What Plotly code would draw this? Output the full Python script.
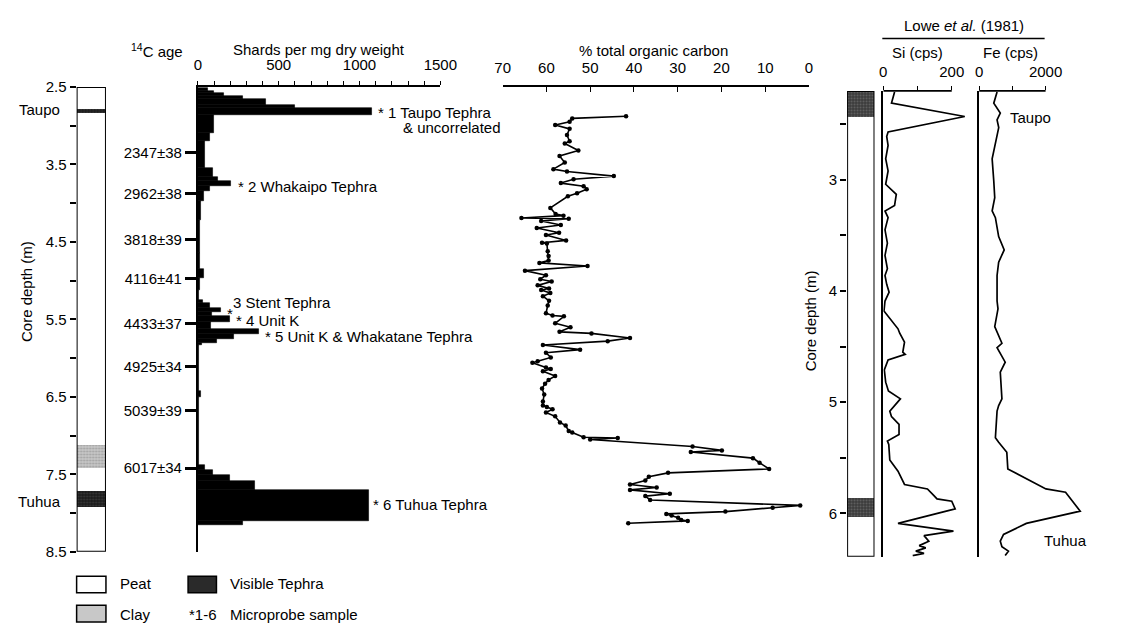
import plotly.graph_objects as go

W, H = 1141, 634
M = 8                      # default page margin of the html body
FW, FH = W - 2 * M, H - 2 * M
def fx(px): return (px - M) / FW
def fy(py): return 1 - (py - M) / FH

FONT = "Liberation Sans, Arial, sans-serif"

# ---------------- data ----------------
# Left stratigraphic column (Core depth, m)
lith_top = [2.5, 2.78, 2.84, 7.12, 7.42, 7.71, 7.92]
lith_bot = [2.78, 2.84, 7.12, 7.42, 7.71, 7.92, 8.5]
lith_type = ["Peat", "Tephra", "Peat", "Clay", "Peat", "Tephra", "Peat"]

# Shard counts (bins)
shard_top = [2.51, 2.55, 2.58, 2.62, 2.66, 2.73, 2.77, 2.86, 3.09, 3.20,
             3.55, 3.66, 3.71, 3.78, 3.84, 3.97, 4.22, 4.64, 4.85, 4.97,
             5.12, 5.25, 5.29, 5.35, 5.41, 5.45, 5.53, 5.62, 5.69, 5.75,
             5.80, 5.83, 6.42, 6.50, 7.38, 7.44, 7.51, 7.59, 7.70, 8.10]
shard_bot = shard_top[1:] + [8.15]
shard_val = [60, 100, 160, 280, 420, 600, 1075, 100, 75, 45,
             95, 125, 205, 75, 35, 20, 12, 15, 38, 12,
             8, 30, 75, 140, 85, 200, 80, 380, 225, 120,
             25, 6, 18, 6, 45, 95, 200, 350, 1055, 280]

# 14C ages
age_depth = [3.35, 3.88, 4.47, 4.97, 5.55, 6.11, 6.68, 7.42]
age_label = ["2347±38", "2962±38", "3818±39", "4116±41", "4433±37",
             "4925±34", "5039±39", "6017±34"]

# % total organic carbon
toc_depth = [2.877, 2.905, 2.948, 2.99, 3.04, 3.12, 3.20, 3.23, 3.32, 3.39,
             3.475, 3.56, 3.59, 3.65, 3.69, 3.74, 3.78, 3.82, 3.87, 3.91,
             4.06, 4.14, 4.16, 4.19, 4.20, 4.23, 4.28, 4.32, 4.38, 4.41,
             4.48, 4.51, 4.52, 4.62, 4.68, 4.74, 4.77, 4.81, 4.87, 4.93,
             4.98, 5.01, 5.06, 5.10, 5.12, 5.16, 5.20, 5.26, 5.32, 5.42,
             5.45, 5.46, 5.55, 5.60, 5.66, 5.68, 5.74, 5.78, 5.83, 5.89,
             5.93, 5.99, 6.04, 6.06, 6.12, 6.14, 6.17, 6.23, 6.28, 6.33,
             6.39, 6.47, 6.56, 6.61, 6.63, 6.66, 6.70, 6.75, 6.83, 6.87,
             6.94, 6.96, 7.02, 7.03, 7.05, 7.14, 7.19, 7.21, 7.29, 7.35,
             7.43, 7.48, 7.53, 7.58, 7.63, 7.67, 7.70, 7.75, 7.78, 7.83,
             7.90, 7.93, 7.98, 8.01, 8.03, 8.06, 8.09, 8.10, 8.13]
toc_val = [41.8, 54.1, 54.7, 58.0, 54.7, 55.3, 54.7, 55.8, 52.7, 57.0,
           55.8, 58.4, 55.3, 44.6, 53.8, 56.7, 51.5, 50.8, 53.0, 55.1,
           59.1, 57.9, 56.1, 65.7, 54.9, 61.2, 56.7, 62.2, 57.1, 60.1,
           55.5, 61.0, 59.9, 59.7, 59.5, 59.5, 61.6, 50.6, 64.9, 60.1,
           61.4, 58.8, 62.0, 59.4, 61.2, 59.1, 60.8, 59.4, 59.7, 60.1,
           58.6, 56.0, 58.0, 54.5, 57.0, 49.7, 40.9, 46.0, 60.8, 52.3,
           60.1, 59.0, 62.0, 63.2, 60.1, 59.0, 60.8, 58.0, 59.5, 60.3,
           61.0, 60.5, 60.8, 60.8, 59.9, 58.6, 60.1, 58.0, 56.9, 55.6,
           54.9, 54.1, 51.5, 43.7, 50.0, 26.6, 19.9, 27.0, 12.8, 11.3,
           9.1, 32.2, 36.6, 37.4, 40.9, 34.8, 40.9, 31.8, 37.4, 36.3,
           2.0, 8.3, 19.1, 32.6, 31.4, 29.9, 29.2, 27.7, 41.3]

# Lowe et al. (1981) core
lowe_top = [2.2, 2.43, 5.86, 6.03]
lowe_bot = [2.43, 5.86, 6.03, 6.39]
lowe_type = ["Tephra", "Peat", "Tephra", "Peat"]

si_depth = [2.21, 2.31, 2.43, 2.57, 2.61, 2.69, 2.81, 2.92, 3.04, 3.13,
            3.23, 3.28, 3.34, 3.45, 3.57, 3.68, 3.80, 3.86, 3.94, 4.01,
            4.09, 4.18, 4.34, 4.38, 4.46, 4.55, 4.57, 4.62, 4.71, 4.82,
            4.90, 4.97, 5.08, 5.13, 5.20, 5.29, 5.35, 5.38, 5.52, 5.62,
            5.74, 5.78, 5.84, 5.87, 5.89, 5.96, 6.09, 6.16, 6.20, 6.25,
            6.29, 6.31, 6.34, 6.36, 6.38]
si_val = [33, 24, 238, 14, 10, 14, 7, 14, 7, 38,
          33, 5, 14, 5, 12, 5, 12, 5, 10, 17,
          5, 2, 43, 48, 62, 57, 64, 14, 3, 7,
          15, 50, 19, 24, 46, 46, 12, 16, 19, 43,
          62, 129, 148, 157, 200, 210, 43, 205, 119, 133,
          105, 124, 95, 119, 86]

fe_depth = [2.21, 2.31, 2.40, 2.46, 2.53, 2.81, 3.01, 3.16, 3.28, 3.34,
            3.51, 3.63, 3.74, 3.86, 4.01, 4.09, 4.16, 4.32, 4.47, 4.51,
            4.64, 4.73, 4.97, 5.03, 5.08, 5.32, 5.36, 5.45, 5.60, 5.78,
            5.81, 5.98, 6.09, 6.19, 6.25, 6.30, 6.34, 6.38]
fe_val = [540, 441, 637, 540, 590, 392, 441, 470, 392, 490,
          588, 755, 588, 540, 540, 540, 568, 470, 686, 540,
          785, 637, 686, 588, 540, 490, 588, 833, 863, 2010,
          2600, 3040, 1420, 735, 637, 686, 882, 784]

# ---------------- figure ----------------
fig = go.Figure()

lith_style = {
    "Peat": dict(color="white", pattern=None),
    "Clay": dict(color="#c8c8c8", pattern=dict(shape=".", fgcolor="#7a7a7a", bgcolor="#c8c8c8", size=3, solidity=0.4)),
    "Tephra": dict(color="#1c1c1c", pattern=dict(shape=".", fgcolor="#5a5a5a", bgcolor="#1c1c1c", size=3, solidity=0.3)),
}
lowe_style = {
    "Peat": dict(color="white", pattern=None),
    "Tephra": dict(color="#3a3a3a", pattern=dict(shape=".", fgcolor="#8c8c8c", bgcolor="#3a3a3a", size=3, solidity=0.35)),
}

def add_column(tops, bots, types, styles, xa, ya):
    for lith, st in styles.items():
        t = [a for a, l in zip(tops, types) if l == lith]
        b = [c for c, l in zip(bots, types) if l == lith]
        if not t:
            continue
        marker = dict(color=st["color"], line=dict(width=0))
        if st["pattern"]:
            marker["pattern"] = st["pattern"]
        fig.add_trace(go.Bar(x=[0.5] * len(t), y=[bb - tt for tt, bb in zip(t, b)], base=t,
                             width=1, marker=marker, xaxis=xa, yaxis=ya,
                             showlegend=False, hoverinfo="skip"))

add_column(lith_top, lith_bot, lith_type, lith_style, "x", "y")

# shards
fig.add_trace(go.Bar(
    x=shard_val, y=[(a + b) / 2 for a, b in zip(shard_top, shard_bot)],
    width=[b - a for a, b in zip(shard_top, shard_bot)], orientation="h",
    marker=dict(color="black", line=dict(width=0.6, color="black")),
    xaxis="x2", yaxis="y2", showlegend=False))

# TOC
fig.add_trace(go.Scatter(
    x=toc_val, y=toc_depth, mode="lines+markers",
    line=dict(color="black", width=1.6), marker=dict(color="black", size=4.5),
    xaxis="x3", yaxis="y3", showlegend=False))

add_column(lowe_top, lowe_bot, lowe_type, lowe_style, "x4", "y4")

fig.add_trace(go.Scatter(x=si_val, y=si_depth, mode="lines",
                         line=dict(color="black", width=1.7),
                         xaxis="x5", yaxis="y5", showlegend=False))
fig.add_trace(go.Scatter(x=fe_val, y=fe_depth, mode="lines",
                         line=dict(color="black", width=1.7),
                         xaxis="x6", yaxis="y6", showlegend=False))

tf = dict(family=FONT, size=15, color="black")
ydom_left = [fy(558), fy(80)]
ydom_right = [fy(563), fy(84)]

common = dict(showgrid=False, zeroline=False, linecolor="black", tickcolor="black", tickfont=tf)
noline = {k: v for k, v in common.items() if k != "tickfont"}

fig.update_layout(
    width=FW, height=FH, margin=dict(l=0, r=0, t=0, b=0),
    paper_bgcolor="white", plot_bgcolor="rgba(0,0,0,0)",
    barmode="overlay", bargap=0, font=tf,
    xaxis=dict(domain=[fx(70), fx(100)], range=[0, 1], visible=False, anchor="y"),
    yaxis=dict(domain=ydom_left, range=[8.5, 2.5], anchor="x",
               tickmode="linear", tick0=2.5, dtick=1, tickformat=".1f",
               ticks="outside", ticklen=6, tickwidth=1.5, showline=False,
               minor=dict(tick0=2.5, dtick=0.5, ticks="outside", ticklen=6, tickwidth=1.5, tickcolor="black"),
               **common),
    xaxis2=dict(domain=[fx(194), fx(442)], range=[0, 1500], side="top", anchor="y2",
                tickmode="linear", tick0=0, dtick=500,
                ticks="outside", ticklen=4, tickwidth=1.2, showline=True, linewidth=1.8,
                minor=dict(tick0=0, dtick=100, ticks="outside", ticklen=4, tickwidth=1.2, tickcolor="black"),
                ticklabelstandoff=5, **common),
    yaxis2=dict(domain=ydom_left, range=[8.5, 2.5], anchor="x2",
                tickvals=age_depth, ticktext=age_label,
                ticks="outside", ticklen=11, tickwidth=3, showline=True, linewidth=1.8, **common),
    xaxis3=dict(domain=[fx(505.7), fx(819)], range=[70, 0], side="top", anchor="y3",
                tickmode="linear", tick0=0, dtick=10, ticks="inside", ticklen=5, tickwidth=1.2,
                showline=True, linewidth=1.8, ticklabelstandoff=6, **common),
    yaxis3=dict(domain=ydom_left, range=[8.5, 2.5], anchor="x3", visible=False),
    xaxis4=dict(domain=[fx(858), fx(886)], range=[0, 1], visible=False, anchor="y4"),
    yaxis4=dict(domain=ydom_right, range=[6.39, 2.2], anchor="x4",
                tickmode="linear", tick0=3, dtick=1,
                ticks="outside", ticklen=6, tickwidth=1.5, showline=False,
                minor=dict(tick0=2.5, dtick=0.5, ticks="outside", ticklen=6, tickwidth=1.5, tickcolor="black"),
                **common),
    xaxis5=dict(domain=[fx(895), fx(990)], range=[0, 271.4], side="top", anchor="y5",
                tickvals=[0, 200], ticks="outside",
                ticklen=4, tickwidth=1.2, showline=False, ticklabelstandoff=3,
                minor=dict(tickvals=[100], ticks="outside", ticklen=4, tickwidth=1.2, tickcolor="black"),
                **common),
    yaxis5=dict(domain=ydom_right, range=[6.39, 2.2], anchor="x5", showline=True, linewidth=1.8,
                showticklabels=False, ticks="", **noline),
    xaxis6=dict(domain=[fx(993), fx(1105)], range=[0, 3294], side="top", anchor="y6",
                tickvals=[0, 2000], ticks="outside",
                ticklen=4, tickwidth=1.2, showline=False, ticklabelstandoff=3,
                minor=dict(tickvals=[1000], ticks="outside", ticklen=4, tickwidth=1.2, tickcolor="black"),
                **common),
    yaxis6=dict(domain=ydom_right, range=[6.39, 2.2], anchor="x6", showline=True, linewidth=1.8,
                showticklabels=False, ticks="", **noline),
)

shapes = [
    dict(type="rect", xref="x", yref="y", x0=0, x1=1, y0=2.5, y1=8.5,
         line=dict(color="black", width=2)),
    dict(type="rect", xref="x4", yref="y4", x0=0, x1=1, y0=2.2, y1=6.39,
         line=dict(color="black", width=2)),
    dict(type="line", xref="x5", yref="paper", x0=0, x1=200, y0=fy(84), y1=fy(84),
         line=dict(color="black", width=1.8)),
    dict(type="line", xref="x6", yref="paper", x0=0, x1=2000, y0=fy(84), y1=fy(84),
         line=dict(color="black", width=1.8)),
    dict(type="line", xref="paper", yref="paper", x0=fx(894), x1=fx(1060), y0=fy(30), y1=fy(30),
         line=dict(color="black", width=1.5)),
    # legend boxes
    dict(type="rect", xref="paper", yref="paper", x0=fx(70), x1=fx(100), y0=fy(600), y1=fy(583),
         fillcolor="white", line=dict(color="black", width=1.5)),
    dict(type="rect", xref="paper", yref="paper", x0=fx(70), x1=fx(100), y0=fy(630), y1=fy(613),
         fillcolor="#c8c8c8", line=dict(color="black", width=1.5)),
    dict(type="rect", xref="paper", yref="paper", x0=fx(184), x1=fx(213), y0=fy(600), y1=fy(583),
         fillcolor="#2a2a2a", line=dict(color="black", width=1.5)),
]
fig.update_layout(shapes=shapes)

def ann(text, px, py, xanchor="center", angle=0, size=15):
    return dict(text=text, x=fx(px), y=fy(py), xref="paper", yref="paper",
                xanchor=xanchor, yanchor="middle", showarrow=False, textangle=angle,
                font=dict(family=FONT, size=size, color="black"))

anns = [
    ann("<sup>14</sup>C age", 152, 42),
    ann("Shards per mg dry weight", 318, 41),
    ann("% total organic carbon", 660, 42),
    ann("Lowe <i>et al.</i> (1981)", 978, 17),
    ann("Si (cps)", 930, 45),
    ann("Fe (cps)", 1025, 45),
    ann("Taupo", 32, 103),
    ann("Tuhua", 32, 506),
    ann("Core depth (m)", 18, 290, angle=-90),
    ann("Core depth (m)", 820, 320, angle=-90),
    ann("* 1 Taupo Tephra", 376, 106, "left"),
    ann("& uncorrelated", 402, 122, "left"),
    ann("* 2 Whakaipo Tephra", 233, 182, "left"),
    ann("3 Stent Tephra", 228, 302, "left"),
    ann("*", 222, 313, "left"),
    ann("* 4 Unit K", 231, 320, "left"),
    ann("* 5 Unit K & Whakatane Tephra", 261, 337, "left"),
    ann("* 6 Tuhua Tephra", 371, 509, "left"),
    ann("Taupo", 1023, 111, "left"),
    ann("Tuhua", 1057, 546, "left"),
    ann("Peat", 112, 591, "left"),
    ann("Clay", 112, 622, "left"),
    ann("Visible Tephra", 225, 591, "left"),
    ann("*1-6", 183, 622, "left"),
    ann("Microprobe sample", 225, 622, "left"),
]
fig.update_layout(annotations=anns)

fig.write_html("out.html", config={"displayModeBar": False})
